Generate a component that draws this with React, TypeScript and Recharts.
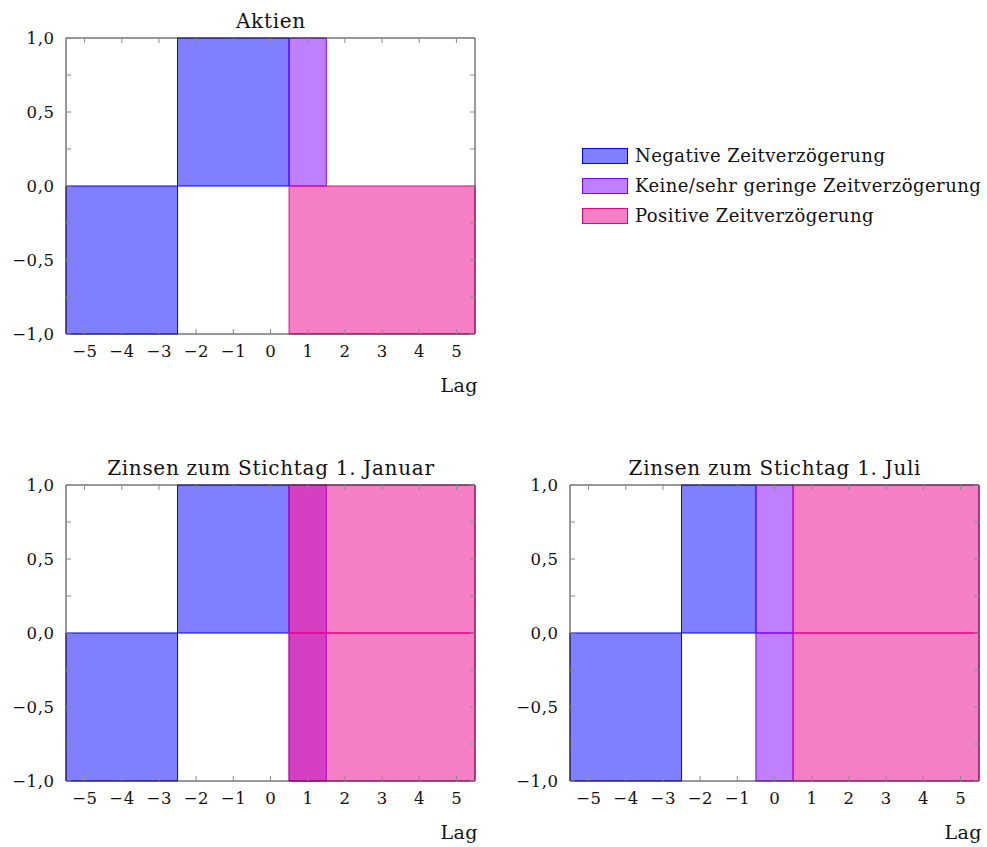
import React from 'react'
import { ComposedChart, XAxis, YAxis, ReferenceArea } from 'recharts'

type Kind = 'neg' | 'none' | 'pos'
interface Block {
  kind: Kind
  from: number
  to: number
  low: number
  high: number
}

const lags = [-5, -4, -3, -2, -1, 0, 1, 2, 3, 4, 5]
const corrTicks = [-1, -0.75, -0.5, -0.25, 0, 0.25, 0.5, 0.75, 1]

// blocks: first lag .. last lag, correlation range
const aktienBlocks: Block[] = [
  { kind: 'neg', from: -5, to: -3, low: -1, high: 0 },
  { kind: 'neg', from: -2, to: 0, low: 0, high: 1 },
  { kind: 'none', from: 1, to: 1, low: 0, high: 1 },
  { kind: 'pos', from: 1, to: 5, low: -1, high: 0 },
]

const januarBlocks: Block[] = [
  { kind: 'neg', from: -5, to: -3, low: -1, high: 0 },
  { kind: 'neg', from: -2, to: 0, low: 0, high: 1 },
  { kind: 'none', from: 1, to: 1, low: -1, high: 1 },
  { kind: 'pos', from: 1, to: 5, low: 0, high: 1 },
  { kind: 'pos', from: 1, to: 5, low: -1, high: 0 },
]

const juliBlocks: Block[] = [
  { kind: 'neg', from: -5, to: -3, low: -1, high: 0 },
  { kind: 'neg', from: -2, to: -1, low: 0, high: 1 },
  { kind: 'none', from: 0, to: 0, low: 0, high: 1 },
  { kind: 'none', from: 0, to: 0, low: -1, high: 0 },
  { kind: 'pos', from: 1, to: 5, low: 0, high: 1 },
  { kind: 'pos', from: 1, to: 5, low: -1, high: 0 },
]

const legendKinds: Kind[] = ['neg', 'none', 'pos']
const legendLabels = [
  'Negative Zeitverzögerung',
  'Keine/sehr geringe Zeitverzögerung',
  'Positive Zeitverzögerung',
]

const colors: Record<Kind, string> = {
  neg: '#0000ff',
  none: '#7f00ff',
  pos: '#e9008a',
}

const FONT = "'DejaVu Serif', serif"
const TICK = '#8a8a8a'
const INK = '#111'
const LS = 0.6

const lagData = lags.map((lag) => ({ lag }))

const fmtLag = (v: number) => String(v).replace('-', '\u2212')
const fmtCorr = (v: number) => v.toFixed(1).replace('.', ',').replace('-', '\u2212')

function BottomTick(props: any) {
  const { x, y, payload } = props
  return (
    <g>
      <line x1={x} x2={x} y1={y} y2={y - 5} stroke={TICK} />
      <text x={x + LS / 2} y={y + 23} textAnchor="middle" fontFamily={FONT} fontSize={16.5} letterSpacing={LS} fill={INK}>
        {fmtLag(payload.value)}
      </text>
    </g>
  )
}

function TopTick(props: any) {
  const { x, y } = props
  return <line x1={x} x2={x} y1={y} y2={y + 5} stroke={TICK} />
}

function LeftTick(props: any) {
  const { x, y, payload } = props
  const v = payload.value as number
  const major = Math.abs(v * 2 - Math.round(v * 2)) < 1e-6
  return (
    <g>
      <line x1={x} x2={x + 5} y1={y} y2={y} stroke={TICK} />
      {major && (
        <text x={x - 12 + LS} y={y + 6} textAnchor="end" fontFamily={FONT} fontSize={16.5} letterSpacing={LS} fill={INK}>
          {fmtCorr(v)}
        </text>
      )}
    </g>
  )
}

function RightTick(props: any) {
  const { x, y } = props
  return <line x1={x} x2={x - 5} y1={y} y2={y} stroke={TICK} />
}

const PLOT_W = 409
const PLOT_H = 296
const AXIS_W = 60
const AXIS_H = 62
const M = { top: 9, right: 11, bottom: 4, left: 6 }

function Panel({ title, blocks, left, top }: { title: string; blocks: Block[]; left: number; top: number }) {
  const width = M.left + AXIS_W + PLOT_W + 1 + M.right
  const height = M.top + 1 + PLOT_H + AXIS_H + M.bottom
  const frame = { stroke: '#333', strokeWidth: 1 }
  return (
    <>
      <div style={{ position: 'absolute', left: left - M.left - AXIS_W, top: top - M.top - 1 }}>
        <ComposedChart width={width} height={height} margin={M} data={lagData}>
          <XAxis
            dataKey="lag"
            type="number"
            domain={[-5.5, 5.5]}
            ticks={lags}
            interval={0}
            allowDataOverflow
            height={AXIS_H}
            tickSize={0}
            tickMargin={0}
            tickLine={false}
            axisLine={frame}
            tick={BottomTick}
          />
          <XAxis
            xAxisId="top"
            orientation="top"
            dataKey="lag"
            type="number"
            domain={[-5.5, 5.5]}
            ticks={lags}
            interval={0}
            allowDataOverflow
            height={1}
            tickSize={0}
            tickMargin={0}
            tickLine={false}
            axisLine={frame}
            tick={TopTick}
          />
          <YAxis
            type="number"
            domain={[-1, 1]}
            ticks={corrTicks}
            interval={0}
            allowDataOverflow
            width={AXIS_W}
            tickSize={0}
            tickMargin={0}
            tickLine={false}
            axisLine={frame}
            tick={LeftTick}
          />
          <YAxis
            yAxisId="right"
            orientation="right"
            type="number"
            domain={[-1, 1]}
            ticks={corrTicks}
            interval={0}
            allowDataOverflow
            width={1}
            tickSize={0}
            tickMargin={0}
            tickLine={false}
            axisLine={frame}
            tick={RightTick}
          />
          {blocks.map((b, i) => (
            <ReferenceArea
              key={i}
              x1={b.from - 0.5}
              x2={b.to + 0.5}
              y1={b.low}
              y2={b.high}
              fill={colors[b.kind]}
              fillOpacity={0.5}
              stroke={colors[b.kind]}
              strokeWidth={1}
              ifOverflow="extendDomain"
            />
          ))}
        </ComposedChart>
      </div>
      <svg
        width={PLOT_W + 40}
        height={30}
        style={{ position: 'absolute', left: left - 20, top: top - 34, overflow: 'visible' }}
      >
        <text x={PLOT_W / 2 + 20 + 0.4} y={24} textAnchor="middle" fontFamily={FONT} fontSize={20} letterSpacing={0.7} fill={INK}>
          {title}
        </text>
      </svg>
      <svg
        width={60}
        height={30}
        style={{ position: 'absolute', left: left + PLOT_W - 50, top: top + PLOT_H + 34, overflow: 'visible' }}
      >
        <text x={53} y={24} textAnchor="end" fontFamily={FONT} fontSize={19} letterSpacing={0.5} fill={INK}>
          Lag
        </text>
      </svg>
    </>
  )
}

function LegendBox() {
  return (
    <div style={{ position: 'absolute', left: 582, top: 146 }}>
      {legendKinds.map((k, i) => (
        <div
          key={k}
          style={{ position: 'absolute', left: 0, top: i * 30, height: 20, display: 'flex', alignItems: 'center', whiteSpace: 'nowrap' }}
        >
          <div
            style={{
              width: 44,
              height: 14,
              border: `1px solid ${colors[k]}`,
              background: colors[k] + '80',
              marginRight: 7,
            }}
          />
          <span style={{ fontFamily: FONT, fontSize: 18, letterSpacing: 0.45, color: INK, lineHeight: '20px' }}>
            {legendLabels[i]}
          </span>
        </div>
      ))}
    </div>
  )
}

export default function App() {
  return (
    <div style={{ position: 'absolute', left: 0, top: 0, width: 987, height: 847, background: '#fff' }}>
      <Panel title="Aktien" blocks={aktienBlocks} left={66} top={38} />
      <Panel title="Zinsen zum Stichtag 1. Januar" blocks={januarBlocks} left={66} top={485} />
      <Panel title="Zinsen zum Stichtag 1. Juli" blocks={juliBlocks} left={570} top={485} />
      <LegendBox />
    </div>
  )
}
